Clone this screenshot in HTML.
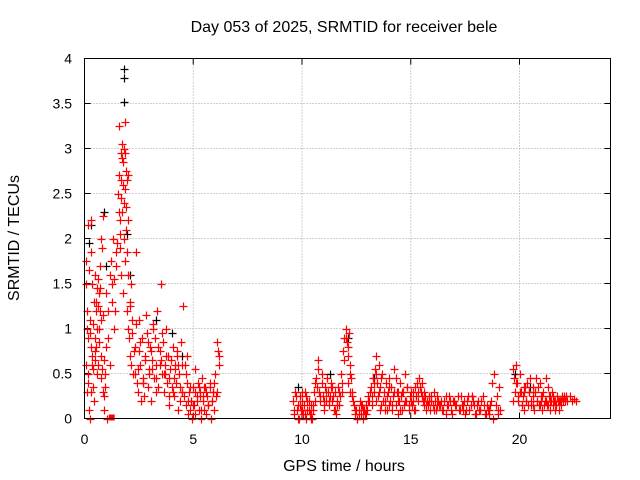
<!DOCTYPE html>
<html><head><meta charset="utf-8"><style>
body{margin:0;background:#fff}
svg{display:block;font-family:"Liberation Sans",sans-serif}
</style></head><body>
<svg id="chart" width="640" height="480">
<rect width="640" height="480" fill="#fff"/>
<text x="344" y="32" font-size="16" text-anchor="middle">Day 053 of 2025, SRMTID for receiver bele</text>
<text x="344" y="471" font-size="16" text-anchor="middle">GPS time / hours</text>
<text transform="translate(19,238) rotate(-90)" font-size="16" text-anchor="middle">SRMTID / TECUs</text>
<g id="grid"></g><g id="ticks"></g><g id="black"></g><g id="red"></g>
<rect x="84.5" y="58.5" width="526" height="360" fill="none" stroke="#000"/>
</svg>
<script>
const xTicks=[0,5,10,15,20];
const yTicks=[0,0.5,1,1.5,2,2.5,3,3.5,4];
const yTickLabels=["0","0.5","1","1.5","2","2.5","3","3.5","4"];
const redT=[0.05,0.07,0.1,0.12,0.14,0.16,0.18,0.2,0.22,0.24,0.26,0.28,0.3,0.32,0.34,0.36,0.38,0.4,0.42,0.44,0.46,0.48,0.5,0.52,0.54,0.56,0.58,0.6,0.62,0.64,0.66,0.68,0.7,0.72,0.74,0.76,0.78,0.8,0.82,0.84,0.86,0.88,0.9,0.92,0.95,1.0,1.05,1.1,1.15,1.2,1.25,1.3,1.35,1.4,1.45,1.5,1.55,1.58,1.6,1.62,1.64,1.66,1.68,1.7,1.72,1.74,1.76,1.78,1.8,1.82,1.84,1.86,1.88,1.9,1.92,1.94,1.96,1.98,2.0,2.02,2.05,2.08,2.1,2.12,2.15,2.2,2.25,2.3,2.35,2.4,2.45,2.5,2.55,2.6,2.65,2.7,2.75,2.8,2.85,2.9,2.95,3.0,3.05,3.1,3.15,3.2,3.25,3.3,3.35,3.4,3.45,3.5,3.55,3.6,3.65,3.7,3.75,3.8,3.85,3.9,3.95,4.0,4.05,4.1,4.15,4.2,4.25,4.3,4.35,4.4,4.45,4.5,4.55,4.6,4.65,4.7,4.75,4.8,4.85,4.9,4.95,5.0,5.05,5.1,5.15,5.2,5.25,5.3,5.35,5.4,5.45,5.5,5.55,5.6,5.65,5.7,5.75,5.8,5.85,5.9,5.95,6.0,6.05,6.1,6.15,6.2,
2.3,2.5,2.7,2.9,3.1,3.3,3.5,3.7,3.9,4.1,4.3,4.5,4.7,4.9,5.1,5.3,5.5,5.7,5.9,
0.06,0.11,0.17,0.23,0.29,0.35,0.41,0.47,0.53,0.59,0.65,0.71,0.77,0.83,0.89,0.97,1.07,1.17,1.27,1.37,1.47,1.57,1.63,1.69,1.73,1.77,1.83,1.87,1.91,1.95,1.99,2.07,2.17,2.27,2.37,2.47,2.57,2.67,2.77,2.87,2.97,3.07,3.17,3.27,3.37,3.47,3.57,3.67,3.77,3.87,3.97,4.07,4.17,4.27,4.37,4.47,4.57,4.67,4.77,4.87,4.97,5.07,5.17,5.27,5.37,5.47,5.57,5.67,5.77,5.87,5.97,6.07,6.17,
9.6,9.65,9.7,9.75,9.8,9.85,9.9,9.95,10.0,10.05,10.1,10.15,10.2,10.25,10.3,10.35,10.4,10.45,10.5,10.55,10.6,10.65,10.7,10.75,10.8,10.85,10.9,10.95,11.0,11.05,11.1,11.15,11.2,11.25,11.3,11.35,11.4,11.45,11.5,11.55,11.6,11.65,11.7,11.75,11.8,11.85,11.9,11.95,12.0,12.05,12.1,12.15,12.2,12.25,12.3,12.35,12.4,12.45,12.5,12.55,12.6,12.65,12.7,12.75,12.8,12.85,12.9,12.95,13.0,13.05,13.1,13.15,13.2,13.25,13.3,13.35,13.4,13.45,13.5,13.55,13.6,13.65,13.7,13.75,13.8,13.85,13.9,13.95,14.0,14.05,14.1,14.15,14.2,14.25,14.3,14.35,14.4,14.45,14.5,14.55,14.6,14.65,14.7,14.75,14.8,14.85,14.9,14.95,15.0,15.05,15.1,15.15,15.2,15.25,15.3,15.35,15.4,15.45,15.5,15.55,15.6,15.65,15.7,15.75,15.8,15.85,15.9,15.95,16.0,16.05,16.1,16.15,16.2,16.3,16.4,16.5,16.6,16.7,16.8,16.9,17.0,17.1,17.2,17.3,17.4,17.5,17.6,17.7,17.8,17.9,18.0,18.1,18.2,18.3,18.4,18.5,18.6,18.7,18.8,18.9,19.0,19.1,19.7,19.75,19.8,19.85,19.9,19.95,20.0,20.05,20.1,20.15,20.2,20.25,20.3,20.35,20.4,20.45,20.5,20.55,20.6,20.65,20.7,20.75,20.8,20.85,20.9,20.95,21.0,21.05,21.1,21.15,21.2,21.25,21.3,21.35,21.4,21.45,21.5,21.55,21.6,21.65,21.7,21.75,21.8,21.85,21.9,21.95,22.0,22.05,22.1,22.15,22.2,22.3,22.4,22.5,22.6,
10.0,10.2,10.4,11.0,11.4,12.1,12.2,13.4,13.6,14.0,14.4,15.2,15.6,16.2,16.6,17.0,17.4,17.8,18.2,18.6,19.0,20.2,20.6,21.0,21.4,
9.62,9.72,9.82,9.92,10.02,10.12,10.22,10.32,10.42,10.52,10.62,10.72,10.82,10.92,11.02,11.12,11.22,11.32,11.42,11.52,11.62,11.72,11.82,11.92,12.02,12.12,12.22,12.32,12.42,12.52,12.62,12.72,12.82,12.92,13.02,13.12,13.22,13.32,13.42,13.52,13.62,13.72,13.82,13.92,14.02,14.12,14.22,14.32,14.42,14.52,14.62,14.72,14.82,14.92,15.02,15.12,15.22,15.32,15.42,15.52,15.62,15.72,15.82,15.92,16.08,16.25,16.35,16.45,16.55,16.65,16.75,16.85,16.95,17.05,17.15,17.25,17.35,17.45,17.55,17.65,17.75,17.85,17.95,18.05,18.15,18.25,18.35,18.45,18.55,18.65,18.75,18.85,18.95,19.05,19.72,19.82,19.92,20.02,20.12,20.22,20.32,20.42,20.52,20.62,20.72,20.82,20.92,21.02,21.12,21.22,21.32,21.42,21.52,21.62,21.72,21.82,21.92,22.02,22.12,22.25,22.35,22.45,22.55];
const redV=[1.75,1.5,1.0,0.3,2.15,0.9,0.5,1.65,0.1,0.95,0.0,2.2,0.3,1.85,0.6,0.7,1.05,0.55,1.3,0.2,0.65,1.6,0.75,1.2,0.8,1.45,1.0,1.25,0.6,1.55,1.4,0.85,1.7,1.2,0.45,1.1,2.0,1.9,0.55,2.25,0.3,0.65,0.1,0.5,0.35,1.4,0.0,0.9,1.6,1.75,1.3,2.0,1.55,1.2,1.7,1.95,2.5,3.25,2.7,1.9,2.2,2.65,1.6,2.95,3.05,2.3,2.85,1.4,3.0,2.4,3.3,2.55,1.75,2.75,2.1,2.65,1.2,2.2,1.6,1.0,0.9,1.25,0.7,1.5,0.6,1.1,0.5,0.8,1.85,0.4,0.3,1.1,0.6,0.2,0.9,0.45,0.25,0.7,1.15,0.35,0.55,0.8,0.2,0.65,1.0,0.45,0.9,0.6,1.2,0.35,0.75,1.5,0.5,0.85,0.3,0.6,1.0,0.4,0.7,0.15,0.55,0.35,0.8,0.25,0.6,0.4,0.75,0.1,0.5,0.2,0.85,0.3,1.25,0.6,0.15,0.4,0.05,0.3,0.1,0.2,0.0,0.35,0.15,0.05,0.25,0.4,0.1,0.3,0.0,0.45,0.2,0.1,0.35,0.05,0.25,0.15,0.4,0.0,0.2,0.3,0.1,0.5,0.25,0.85,0.75,0.6,
0.5,0.75,0.4,0.85,0.55,0.3,0.65,0.5,0.25,0.45,0.6,0.3,0.7,0.2,0.55,0.25,0.35,0.15,0.3,
0.6,1.2,0.4,1.1,0.8,1.5,0.35,0.9,1.3,0.5,1.0,1.45,0.7,1.15,0.25,0.8,1.2,0.6,1.5,1.0,1.85,2.3,2.05,2.45,2.9,2.6,2.0,2.95,2.35,1.85,2.7,1.3,0.95,0.75,1.05,0.55,0.85,0.4,0.65,0.95,0.5,0.75,1.05,0.45,0.8,0.6,0.95,0.5,0.7,0.45,0.65,0.3,0.55,0.7,0.35,0.6,0.25,0.5,0.2,0.35,0.15,0.3,0.2,0.35,0.1,0.25,0.3,0.15,0.35,0.2,0.4,0.3,0.7,
0.2,0.05,0.3,0.1,0.15,0.0,0.25,0.1,0.2,0.05,0.15,0.3,0.0,0.1,0.2,0.05,0.15,0.0,0.1,0.3,0.2,0.45,0.35,0.65,0.3,0.2,0.5,0.25,0.1,0.35,0.2,0.45,0.3,0.15,0.25,0.4,0.2,0.1,0.3,0.05,0.2,0.35,0.15,0.25,0.5,0.3,0.75,0.9,1.0,0.85,0.7,0.95,0.6,0.45,0.3,0.2,0.15,0.05,0.1,0.0,0.1,0.2,0.05,0.15,0.0,0.1,0.05,0.15,0.1,0.25,0.2,0.35,0.15,0.45,0.3,0.55,0.7,0.4,0.25,0.6,0.35,0.15,0.5,0.3,0.2,0.4,0.1,0.3,0.45,0.2,0.35,0.1,0.25,0.55,0.15,0.3,0.05,0.2,0.4,0.25,0.1,0.3,0.15,0.5,0.2,0.35,0.1,0.25,0.2,0.15,0.3,0.1,0.35,0.25,0.4,0.2,0.45,0.3,0.4,0.2,0.15,0.25,0.1,0.2,0.15,0.25,0.1,0.2,0.15,0.3,0.2,0.1,0.25,0.15,0.2,0.1,0.25,0.15,0.2,0.05,0.2,0.15,0.1,0.25,0.15,0.05,0.2,0.1,0.25,0.15,0.05,0.2,0.1,0.25,0.05,0.15,0.1,0.2,0.0,0.15,0.05,0.1,0.55,0.45,0.3,0.6,0.4,0.2,0.5,0.3,0.15,0.25,0.1,0.35,0.2,0.4,0.15,0.3,0.45,0.2,0.35,0.1,0.3,0.45,0.2,0.35,0.15,0.4,0.25,0.1,0.3,0.2,0.45,0.15,0.35,0.25,0.1,0.2,0.3,0.15,0.2,0.1,0.15,0.2,0.1,0.2,0.15,0.25,0.2,0.25,0.2,0.25,0.2,0.25,0.2,0.22,0.2,
0.1,0.25,0.05,0.2,0.35,0.4,0.3,0.2,0.1,0.15,0.3,0.1,0.2,0.15,0.05,0.2,0.1,0.25,0.1,0.05,0.1,0.3,0.15,0.2,0.25,
0.1,0.25,0.0,0.15,0.3,0.05,0.2,0.1,0.0,0.15,0.4,0.55,0.25,0.4,0.15,0.3,0.2,0.35,0.25,0.1,0.15,0.3,0.4,0.65,0.9,0.8,0.5,0.25,0.1,0.0,0.05,0.15,0.1,0.05,0.2,0.3,0.25,0.4,0.5,0.3,0.45,0.2,0.1,0.25,0.35,0.15,0.3,0.45,0.2,0.1,0.3,0.2,0.35,0.15,0.3,0.2,0.25,0.3,0.35,0.25,0.3,0.15,0.2,0.25,0.1,0.2,0.15,0.1,0.2,0.15,0.25,0.1,0.2,0.15,0.25,0.1,0.15,0.2,0.1,0.25,0.15,0.2,0.05,0.15,0.1,0.2,0.15,0.05,0.1,0.15,0.4,0.5,0.25,0.35,0.2,0.4,0.25,0.3,0.15,0.35,0.2,0.3,0.15,0.25,0.3,0.2,0.15,0.25,0.15,0.2,0.15,0.2,0.25,0.2,0.25,0.2,0.2];
const blackT=[1.8,1.8,1.82,0.3,0.9,0.2,1.0,1.95,2.1,3.3,4.0,4.5,9.8,11.3,12.1,13.3,19.8,20.5];
const blackV=[3.88,3.78,3.52,2.15,2.3,1.95,1.7,2.05,1.6,1.1,0.95,0.7,0.35,0.5,0.9,0.45,0.5,0.35];
const X0=84.5,PXH=21.75,Y0=418.5,PXV=90;
const xs=t=>X0+t*PXH, ys=v=>Y0-v*PXV;
const NS="http://www.w3.org/2000/svg";
function mk(tag,attrs,parent){const e=document.createElementNS(NS,tag);for(const k in attrs)e.setAttribute(k,attrs[k]);parent.appendChild(e);return e;}
const grid=document.getElementById('grid'),ticks=document.getElementById('ticks');
xTicks.forEach(t=>{const x=xs(t);
 if(t>0){const g=mk('line',{x1:x,x2:x,y1:58.5,y2:418.5,stroke:'#a0a0a0','stroke-dasharray':'1,2'},grid);
 
 }
 mk('line',{x1:x,x2:x,y1:418.5,y2:412.5,stroke:'#000'},ticks);
 mk('line',{x1:x,x2:x,y1:58.5,y2:64.5,stroke:'#000'},ticks);
 const l=mk('text',{x:x,y:444,'font-size':14,'text-anchor':'middle'},ticks);l.textContent=t;
 
 });
yTicks.forEach((v,i)=>{const y=ys(v);
 if(v>0&&v<4){const g=mk('line',{x1:84.5,x2:610.5,y1:y,y2:y,stroke:'#a0a0a0','stroke-dasharray':'1,2'},grid);
 
 }
 mk('line',{x1:84.5,x2:90.5,y1:y,y2:y,stroke:'#000'},ticks);
 mk('line',{x1:610.5,x2:604.5,y1:y,y2:y,stroke:'#000'},ticks);
 const l=mk('text',{x:72,y:y+5,'font-size':14,'text-anchor':'end'},ticks);l.textContent=yTickLabels[i];
 
 });
function plus(g,t,v,c,name){const x=Math.round(xs(t))+0.5,y=Math.round(ys(v))+0.5;
 const p=mk('path',{d:`M${x-4} ${y}H${x+4}M${x} ${y-4}V${y+4}`,stroke:c,'stroke-width':1.2,fill:'none'},g);
 
 }
const bg=document.getElementById('black'),rg=document.getElementById('red');
blackT.forEach((t,i)=>plus(bg,t,blackV[i],'#000','black-point'));
redT.forEach((t,i)=>plus(rg,t,redV[i],'#f00','red-point'));
const sq=mk('rect',{x:xs(1.25)-3,y:ys(0)-4,width:6,height:6,fill:'#f00'},rg);


</script>
</body></html>
